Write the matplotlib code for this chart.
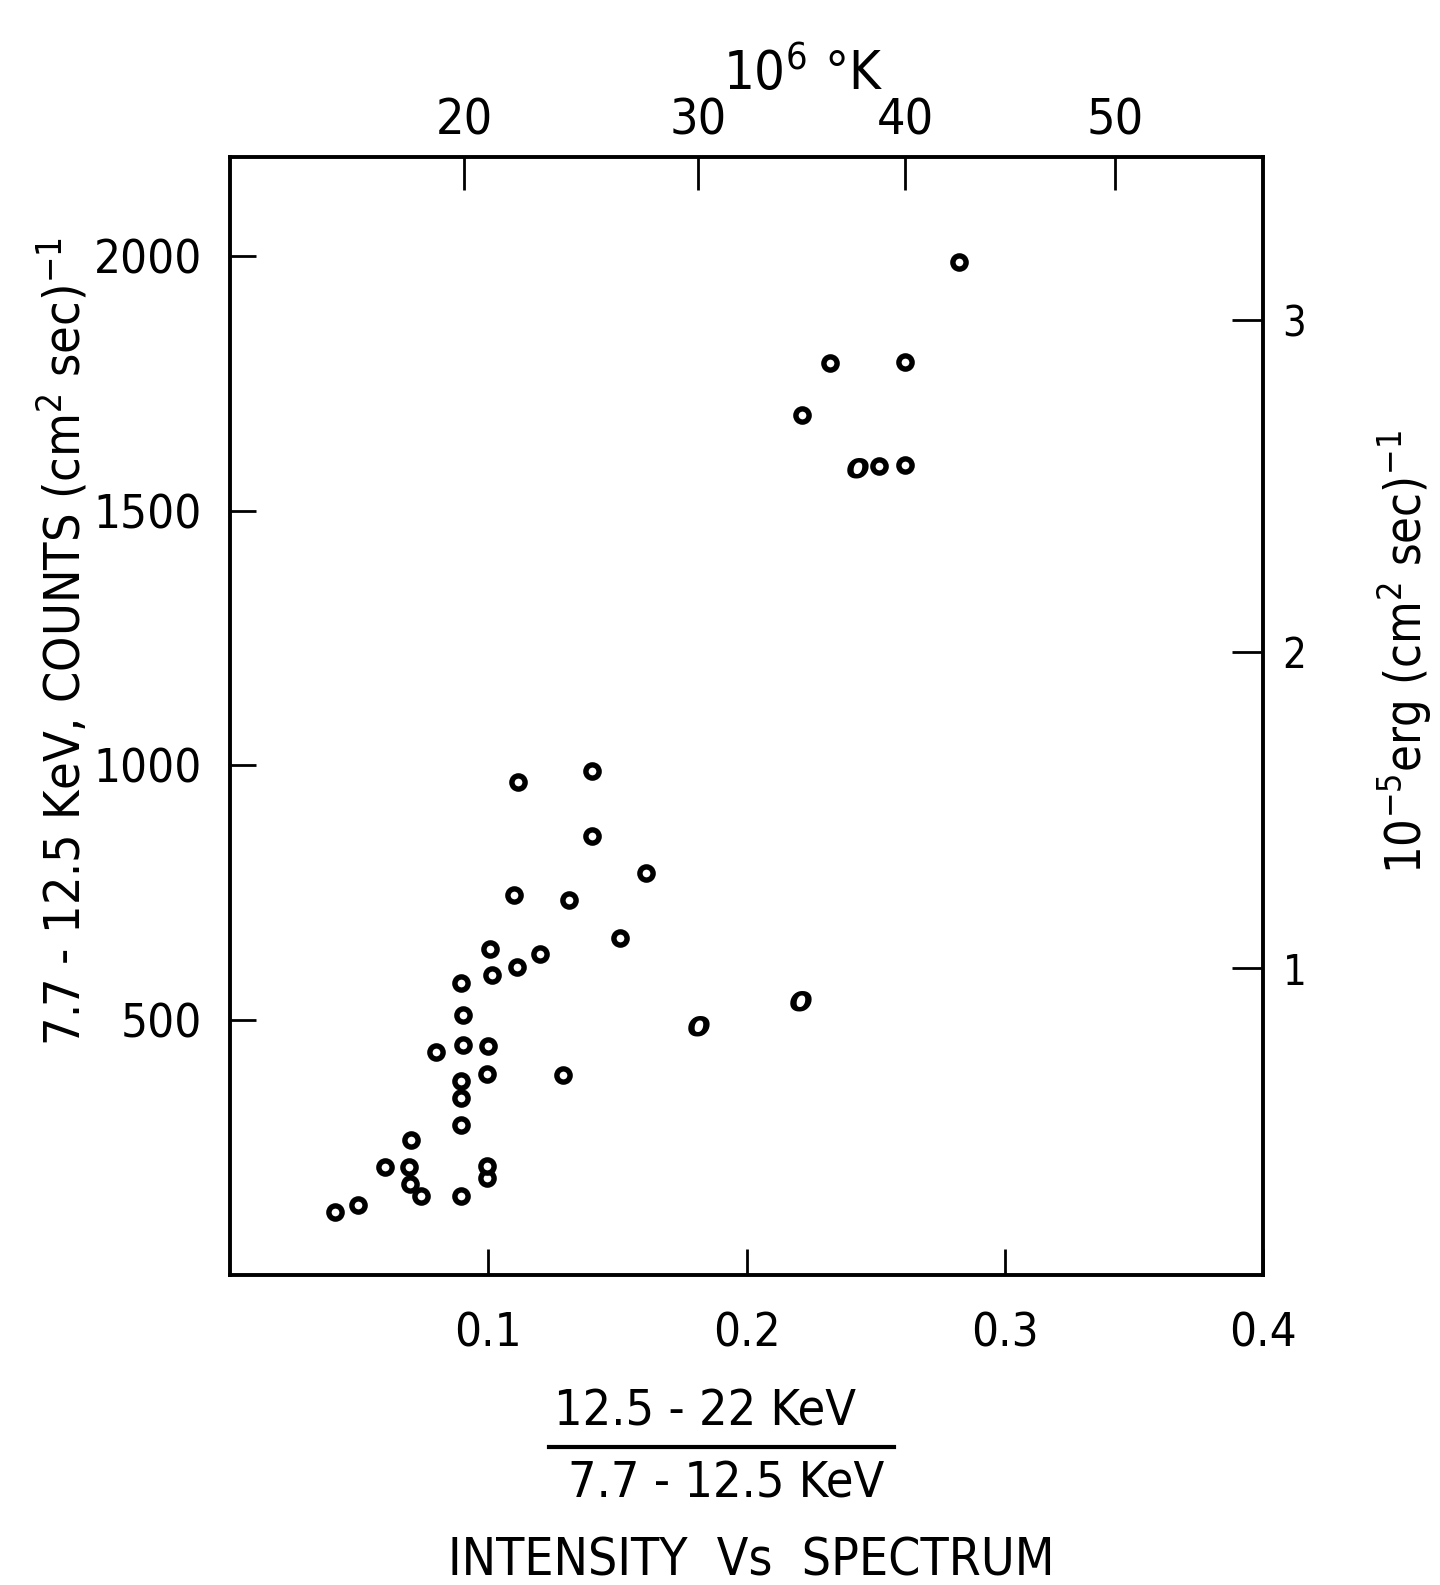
import matplotlib
matplotlib.use("Agg")
import matplotlib.pyplot as plt
from matplotlib.lines import Line2D

plt.rcParams['font.family'] = ['DejaVu Sans']
plt.rcParams['font.stretch'] = 'condensed'
plt.rcParams['mathtext.fontset'] = 'custom'
plt.rcParams['mathtext.rm'] = 'DejaVu Sans:stretch=condensed'
plt.rcParams['mathtext.it'] = 'DejaVu Sans:stretch=condensed:style=oblique'

# hardness ratio (12.5-22 KeV / 7.7-12.5 KeV) and intensity (counts)
ratio = [0.0405, 0.0496, 0.0599, 0.0693, 0.0697, 0.0699, 0.0741, 0.0799,
         0.0893, 0.0896, 0.0896, 0.0896, 0.0896, 0.0902, 0.0902,
         0.0995, 0.0995, 0.0996, 0.0999, 0.1005, 0.1014,
         0.1099, 0.1111, 0.1115, 0.1202, 0.1289, 0.1312,
         0.1402, 0.1402, 0.1509, 0.1612,
         0.2215, 0.2322, 0.2514, 0.2614, 0.2614, 0.2821]
counts = [124, 137, 211, 212, 178, 265, 155, 437,
          155, 294, 348, 380, 573, 452, 511,
          191, 214, 395, 450, 640, 588,
          745, 604, 968, 630, 393, 735,
          861, 989, 661, 788,
          1687, 1789, 1587, 1590, 1791, 1988]

# points written as an italic letter "o" in the original
ratio_o = [0.1814, 0.2208, 0.2430]
counts_o = [489, 538, 1585]

x_ticks = [0.1, 0.2, 0.3, 0.4]
x_labels = ['0.1', '0.2', '0.3', '0.4']
y_ticks = [500, 1000, 1500, 2000]
# temperature scale (10^6 K) along the top
temp_pos = [0.0906, 0.1813, 0.2615, 0.3428]
temp_labels = ['20', '30', '40', '50']
# energy flux scale (10^-5 erg) on the right, in count units
flux_pos = [602, 1223, 1875]
flux_labels = ['1', '2', '3']

W, H = 1440, 1585
fig = plt.figure(figsize=(W / 100, H / 100), dpi=100)
left, right, top, bottom = 230, 1263, 157, 1275
ax = fig.add_axes([left / W, 1 - bottom / H, (right - left) / W, (bottom - top) / H])

ax.plot(ratio, counts, 'o', mfc='white', mec='black', ms=9.5, mew=3.9, clip_on=False)
for x, y in zip(ratio_o, counts_o):
    ax.text(x, y, 'o', ha='center', va='center', fontsize=25, style='italic',
            weight='bold', stretch='normal')

ax.set_xlim(0, 0.4)
ax.set_ylim(0, 2194)
for s in ax.spines.values():
    s.set_linewidth(2.8)

ax.set_xticks(x_ticks)
ax.set_xticklabels(x_labels)
ax.set_yticks(y_ticks)
ax.tick_params(axis='both', direction='in', length=19, width=2, labelsize=34)
ax.tick_params(axis='x', pad=26)
ax.tick_params(axis='y', pad=20)

sec_x = ax.secondary_xaxis('top')
sec_x.set_xticks(temp_pos)
sec_x.set_xticklabels(temp_labels)
sec_x.tick_params(direction='in', length=24, width=2, labelsize=36, pad=9)

sec_y = ax.secondary_yaxis('right')
sec_y.set_yticks(flux_pos)
sec_y.set_yticklabels(flux_labels)
sec_y.tick_params(direction='in', length=22, width=2, labelsize=30, pad=14)

fig.text(803 / W, 1 - 74 / H, '10$^{6}$ °K', ha='center', va='center', fontsize=39)
fig.text(63 / W, 1 - 642 / H, '7.7 - 12.5 KeV, COUNTS (cm$^{2}$ sec)$^{-1}$',
         ha='center', va='center', rotation=90, fontsize=36)
fig.text(1405 / W, 1 - 652 / H, '10$^{-5}$erg (cm$^{2}$ sec)$^{-1}$',
         ha='center', va='center', rotation=90, fontsize=35)

fig.text(705 / W, 1 - 1411 / H, '12.5 - 22 KeV', ha='center', va='center', fontsize=36)
fig.add_artist(Line2D([549 / W, 894 / W], [1 - 1447 / H, 1 - 1447 / H],
                      transform=fig.transFigure, color='black', lw=3))
fig.text(726 / W, 1 - 1483 / H, '7.7 - 12.5 KeV', ha='center', va='center', fontsize=36)
fig.text(751 / W, 1 - 1561 / H, 'INTENSITY  Vs  SPECTRUM', ha='center', va='center',
         fontsize=37)

fig.savefig('out.png', dpi=100)
